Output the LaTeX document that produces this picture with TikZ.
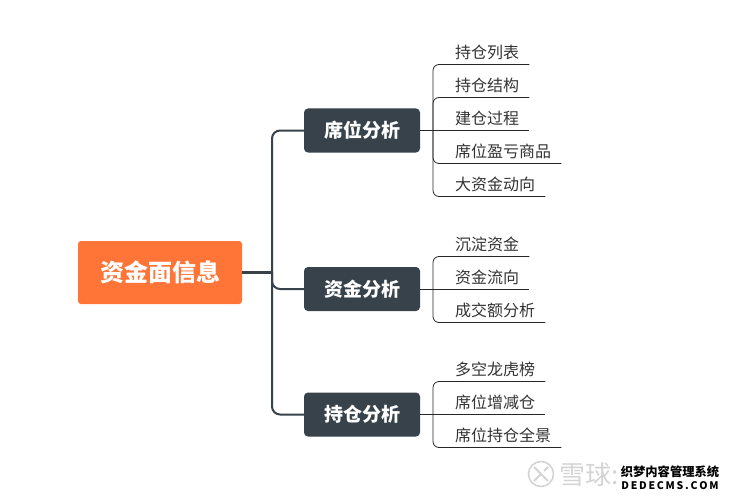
\documentclass[tikz,border=0pt]{standalone}
\usepackage{fontspec}
\setmainfont{Noto Sans CJK SC}
\definecolor{orangemain}{HTML}{FF7538}
\definecolor{darkbox}{HTML}{37424A}
\definecolor{wmgray}{HTML}{D4D4D4}
\tikzset{
  rootbox/.style={draw=none,fill=orangemain,rounded corners=3pt,minimum width=164pt,minimum height=63pt,inner sep=0pt,text=white,font=\fontsize{24}{26}\selectfont\bfseries},
  subbox/.style={draw=none,fill=darkbox,rounded corners=4pt,minimum width=116pt,minimum height=44pt,inner sep=0pt,text=white,font=\fontsize{19}{21}\selectfont\bfseries},
  leaf/.style={anchor=south west,inner sep=0pt,minimum height=24pt,text=black!80,font=\fontsize{16}{18}\selectfont},
  stem/.style={draw=darkbox,line width=3pt},
  trunk/.style={draw=darkbox,line width=2pt,rounded corners=8pt},
  twig/.style={draw=black!85,line width=0.8pt,rounded corners=6pt},
  wmbig/.style={text=wmgray,inner sep=0pt,font=\fontsize{26}{28}\selectfont},
  wmcn/.style={inner sep=0pt,text=black,font=\fontsize{12.3}{13}\selectfont\bfseries},
  wmen/.style={inner sep=0pt,text=black,font=\fontsize{10.5}{12}\selectfont\bfseries},
}
\newcommand{\lf}[1]{\hspace*{22pt}#1\hspace*{10pt}}
\begin{document}
\begin{tikzpicture}[x=1pt,y=-1pt]
\useasboundingbox (0,0) rectangle (730,500);
\node[rootbox] (root) at (160,272.5) {资金面信息};
\node[subbox] (s1) at (362,130.5) {席位分析};
\node[subbox] (s2) at (362,289) {资金分析};
\node[subbox] (s3) at (362,414.5) {持仓分析};
\coordinate (hub) at (272,272);
\draw[trunk] (hub) |- (s1.west);
\draw[trunk] (hub) |- (s2.west);
\draw[trunk] (hub) |- (s3.west);
\draw[stem] (root.east |- hub) -- (hub);
% group 1
\node[leaf] (a1) at (433,64.5) {\lf{持仓列表}};
\node[leaf] (a2) at (433,97.5) {\lf{持仓结构}};
\node[leaf] (a3) at (433,130.5) {\lf{建仓过程}};
\node[leaf] (a4) at (433,163.5) {\lf{席位盈亏商品}};
\node[leaf] (a5) at (433,196.5) {\lf{大资金动向}};
\draw[twig] (s1.east |- a3.south east) -- (a3.south east);
\foreach \n in {a1,a2,a4,a5}{\draw[twig] (a3.south west) -- (\n.south west) -- (\n.south east);}
% group 2
\node[leaf] (b1) at (433,256.5) {\lf{沉淀资金}};
\node[leaf] (b2) at (433,289.5) {\lf{资金流向}};
\node[leaf] (b3) at (433,322.5) {\lf{成交额分析}};
\draw[twig] (s2.east |- b2.south east) -- (b2.south east);
\draw[twig] (b2.south west) -- (b1.south west) -- (b1.south east);
\draw[twig] (b2.south west) -- (b3.south west) -- (b3.south east);
% group 3
\node[leaf] (c1) at (433,381.5) {\lf{多空龙虎榜}};
\node[leaf] (c2) at (433,414.5) {\lf{席位增减仓}};
\node[leaf] (c3) at (433,447.5) {\lf{席位持仓全景}};
\draw[twig] (s3.east |- c2.south east) -- (c2.south east);
\draw[twig] (c2.south west) -- (c1.south west) -- (c1.south east);
\draw[twig] (c2.south west) -- (c3.south west) -- (c3.south east);
% watermark
\draw[wmgray,line width=1.6pt] (541,474) circle (12.5);
\draw[wmgray,line width=1.8pt] (534,467) -- (548,481) (534,481) -- (541,474) (548,467) -- (544,471);
\node[wmbig] (wm) at (589,475) {雪球:};
\node[wmcn] (w1) at (670,472) {织梦内容管理系统};
\node[wmen] (w2) at (670,485.5) {D\,E\,D\,E\,C\,M\,S\,.\,C\,O\,M};
\end{tikzpicture}
\end{document}
